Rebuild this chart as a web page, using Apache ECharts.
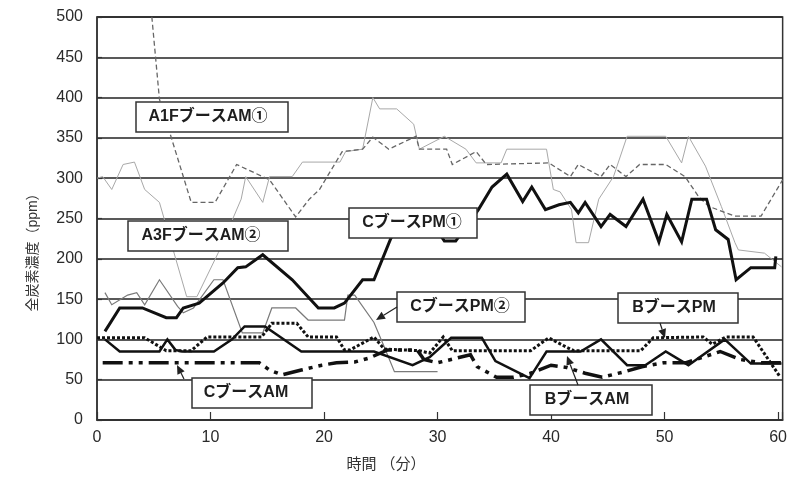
<!DOCTYPE html>
<html><head><meta charset="utf-8">
<script src="https://cdn.jsdelivr.net/npm/echarts@6/dist/echarts.min.js"></script>
<style>html,body{margin:0;padding:0;background:#fff}#c{width:790px;height:487px}</style>
</head><body><div id="c"></div>
<script>
// ---- data (x = minutes, y = ppm) ----
const xTicks = [0, 10, 20, 30, 40, 50, 60];
const yTicks = [0, 50, 100, 150, 200, 250, 300, 350, 400, 450, 500];

const a1fAM1 = [[4.7,520],[5.5,398],[6.4,357],[8.3,270],[10.4,270],[12.3,317],[15.2,298],[17.5,252],[18.7,274],[19.6,286],[21.6,333],[23.4,336],[24.3,351],[25.7,336],[28.1,352],[28.4,336],[30.8,336],[31.3,317],[33.4,333],[34.3,317],[39.8,319],[41.7,302],[42.4,317],[44.4,302],[45.2,317],[46.6,302],[47.8,317],[50.1,317],[51.8,302],[53,277],[53.9,265],[56.2,253],[58.5,253],[60.4,298]];

const a3fAM2 = [[0,300],[0.5,302],[1.3,286],[2.3,317],[3.3,320],[4.2,286],[5.5,270],[7.9,153],[8.8,153],[10.7,208],[12.7,274],[13.1,302],[14.6,270],[15.2,302],[17.2,302],[18.1,320],[21.4,320],[21.9,333],[23.4,336],[24.3,400],[24.9,386],[26.4,386],[27.9,367],[28.4,336],[30.6,352],[32.5,336],[33.4,319],[35.6,319],[36.1,336],[39.6,336],[40.2,286],[40.8,283],[41.8,261],[42.2,220],[43.3,220],[44.2,274],[45.5,302],[46.7,352],[50.1,352],[51.5,319],[52.1,352],[53.6,315],[55,265],[56.2,220],[56.5,211],[58.8,207],[60.3,190]];

const cPM1 = [[0.7,110],[2.0,139],[4.0,139],[6.1,127],[7.0,127],[7.6,139],[9.0,145],[11.1,170],[12.4,189],[13.1,190],[14.6,205],[17.2,174],[19.5,139],[20.9,139],[21.8,145],[23.4,174],[24.4,174],[25.9,226],[27.5,245],[29.5,245],[30.6,222],[31.6,222],[33.6,261],[34.8,289],[36.1,305],[37.5,271],[38.3,289],[39.5,261],[40.7,267],[41.7,270],[42.4,257],[43.0,270],[44.4,240],[45.2,255],[46.6,240],[48.1,274],[49.5,221],[50.2,255],[51.5,221],[52.4,274],[53.7,274],[54.5,236],[55.6,224],[56.3,174],[57.6,189],[59.7,189],[59.8,203]];

const cPM2 = [[0.7,158],[1.3,143],[2.7,155],[3.5,158],[4.2,143],[5.5,174],[7.1,141],[7.6,133],[8.5,139],[10.3,174],[11.1,174],[12.8,108],[14.6,108],[15.4,139],[17.5,139],[18.6,124],[21.8,124],[22.1,155],[22.7,155],[24.4,121],[25.3,91],[26.2,60],[30,60]];

const bPM = [[0,102],[4.2,102],[6.1,86],[8.3,86],[9.7,103],[14.5,103],[15.4,120],[17.6,120],[18.6,103],[21.1,103],[21.8,87],[22.3,87],[24.4,103],[25.3,88],[28.4,86],[29.3,83],[30.5,103],[31.3,86],[38.2,86],[39.8,102],[41.4,90],[42,86],[47.9,86],[49,102],[53.4,103],[54.2,94],[55.4,103],[57.8,103],[60.2,53]];

const cAM = [[0.5,71],[14.3,71],[15.2,62],[16.3,56],[18,62],[19.8,68],[21.1,71],[22.7,72],[24,77],[25.6,87],[28.2,87],[28.8,75],[30,71],[32.9,81],[33.5,66],[35.2,53],[36.7,53],[38.2,58],[40,68],[41.4,65],[43,58],[44.5,53],[46.5,60],[48,66],[49.9,71],[51.9,71],[54.9,85],[56.7,75],[58.5,71],[60.3,71]];

const bAM = [[0.7,100],[2,85],[5.5,85],[6.2,100],[6.9,87],[7.5,85],[10.3,85],[11.9,100],[13,116],[14.8,116],[18,85],[24.4,85],[27.8,68],[29.3,78],[31.2,102],[33.9,102],[35.1,73],[38.1,52],[39.6,85],[40.9,85],[42.6,85],[44.4,100],[46.7,68],[48.3,68],[50.1,85],[52.1,68],[55.3,100],[57.6,70],[60.3,70]];

const labelTexts = ['A1FブースAM①','A3FブースAM②','CブースPM①','CブースPM②','BブースPM','CブースAM','BブースAM'];

// ---- chart ----
const FONT = '"Liberation Sans", Arial, "Noto Sans CJK JP", sans-serif';
const chart = echarts.init(document.getElementById('c'), null, {renderer:'canvas'});

function mk(name, data, color, width, type, z) {
  return {name, type:'line', data, symbol:'none', clip:true, z: z||2,
    lineStyle:{color, width, type, cap:'butt', join:'miter'}, animation:false};
}

function box(x, y, w, h, text, tx) {
  return [
    {type:'rect', z:50, shape:{x, y, width:w, height:h}, style:{fill:'#fff', stroke:'#333', lineWidth:1.5}},
    {type:'text', z:51, x: tx, y: y + h/2, style:{text, fill:'#1e1e1e', font:'bold 16px ' + FONT, textAlign:'center', textVerticalAlign:'middle'}}
  ];
}
function arrow(x1, y1, x2, y2) {
  const a = Math.atan2(y2-y1, x2-x1), L = 9, W = 4;
  const bx = x2 - L*Math.cos(a), by = y2 - L*Math.sin(a);
  return [
    {type:'line', z:52, shape:{x1, y1, x2:bx, y2:by}, style:{stroke:'#222', lineWidth:1.2}},
    {type:'polygon', z:52, shape:{points:[[x2,y2],[bx + W*Math.sin(a), by - W*Math.cos(a)],[bx - W*Math.sin(a), by + W*Math.cos(a)]]}, style:{fill:'#222'}}
  ];
}

const graphics = [].concat(
  box(136,102,152,30,labelTexts[0],208),
  box(128,221,160,30,labelTexts[1],201),
  box(349,208,128,30,labelTexts[2],412),
  box(397,292,128,30,labelTexts[3],460),
  box(618,293,120,30,labelTexts[4],674),
  box(192,378,120,30,labelTexts[5],246),
  box(530,385,122,30,labelTexts[6],587),
  arrow(397,307,376,320),
  arrow(660,323,665,338),
  arrow(184,379,177,365),
  arrow(578,385,567,356),
  [{type:'text', x:33, y:249, rotation:Math.PI/2, style:{text:'全炭素濃度（ppm）', fill:'#333', font:'14px ' + FONT, textAlign:'center', textVerticalAlign:'middle'}},
   {type:'text', x:386, y:465, style:{text:'時間 （分）', fill:'#333', font:'15px ' + FONT, textAlign:'center', textVerticalAlign:'middle'}}]
);

chart.setOption({
  animation:false,
  backgroundColor:'#fff',
  grid:{left:97, right:4, top:17, bottom:67, show:true, borderColor:'#333', borderWidth:1.5, backgroundColor:'transparent'},
  xAxis:{type:'value', min:0, max:60.4, interval:10,
    axisLine:{show:true, lineStyle:{color:'#333', width:1.5}},
    axisTick:{show:true, inside:true, length:8, lineStyle:{color:'#333', width:1.2}},
    axisLabel:{margin:10, color:'#2a2a2a', fontSize:16, fontFamily:FONT, formatter:(v)=> xTicks.includes(v) ? String(v) : ''},
    splitLine:{show:false}},
  yAxis:{type:'value', min:0, max:500, interval:50,
    axisLine:{show:true, lineStyle:{color:'#333', width:1.5}},
    axisTick:{show:true, inside:true, length:5, lineStyle:{color:'#333', width:1.2}},
    axisLabel:{margin:14, color:'#2a2a2a', fontSize:16, fontFamily:FONT, formatter:(v)=> yTicks.includes(v) ? String(v) : ''},
    splitLine:{show:true, lineStyle:{color:'#222', width:1.6}}},
  series:[
    mk('A1FブースAM①', a1fAM1, '#666', 1.3, [5,3], 3),
    mk('A3FブースAM②', a3fAM2, '#a8a8a8', 1, 'solid', 2),
    mk('CブースPM②', cPM2, '#7a7a7a', 1.2, 'solid', 3),
    mk('CブースAM', cAM, '#111', 3.5, [20,6,4,6,4,6], 4),
    mk('BブースPM', bPM, '#111', 3, [3,2], 5),
    mk('BブースAM', bAM, '#111', 2.5, 'solid', 6),
    mk('CブースPM①', cPM1, '#111', 3, 'solid', 7)
  ],
  graphic:{elements:graphics}
});
</script></body></html>
